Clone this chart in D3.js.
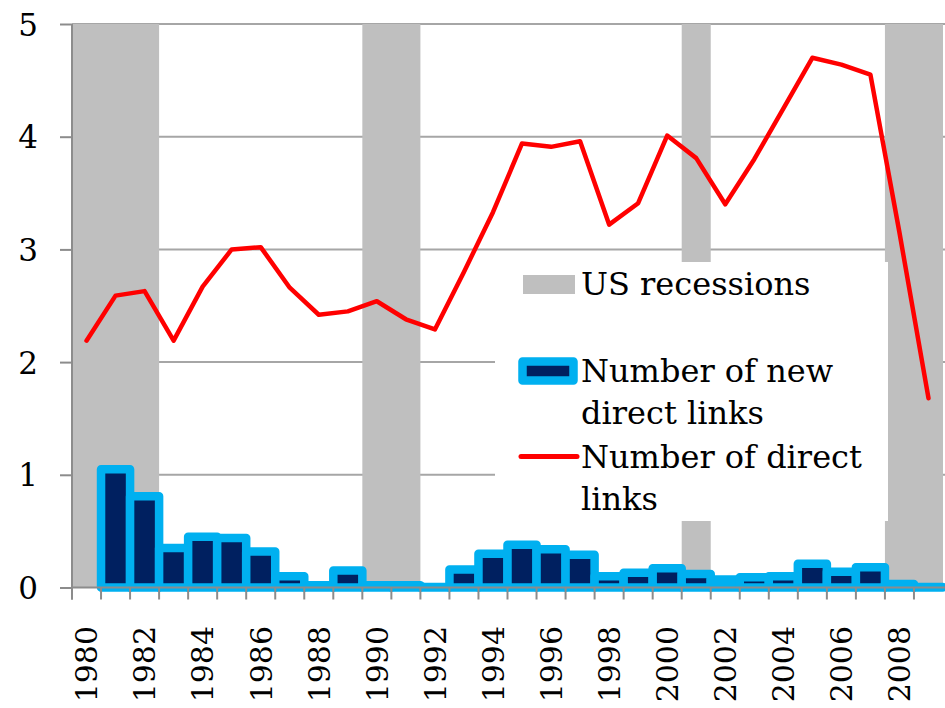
<!DOCTYPE html>
<html>
<head>
<meta charset="utf-8">
<script src="https://cdn.jsdelivr.net/npm/d3@7"></script>
<style>
  html, body { margin: 0; padding: 0; background: #fff; }
  svg { display: block; font-family: "DejaVu Serif", serif; }
</style>
</head>
<body>
<svg id="chart" width="945" height="708"></svg>
<script>
// ---- data ----
const years = [1980,1981,1982,1983,1984,1985,1986,1987,1988,1989,
               1990,1991,1992,1993,1994,1995,1996,1997,1998,1999,
               2000,2001,2002,2003,2004,2005,2006,2007,2008,2009];
const recessionYears = [1980,1981,1982,1990,1991,2001,2008,2009];
const recessionHeight = 5;
const newDirectLinks = [null,1.05,0.81,0.35,0.45,0.44,0.32,0.10,0.02,0.15,
                        0.02,0.02,0.005,0.16,0.30,0.38,0.34,0.29,0.10,0.13,
                        0.17,0.12,0.07,0.09,0.10,0.21,0.14,0.18,0.03,0.005];
const directLinks = [2.19,2.59,2.63,2.19,2.67,3.00,3.02,2.66,2.42,2.45,
                     2.54,2.38,2.29,2.80,3.33,3.94,3.91,3.96,3.22,3.41,
                     4.01,3.81,3.40,3.80,4.25,4.70,4.64,4.55,3.15,1.68];
const yTicks = [0,1,2,3,4,5];
const xTickLabels = [1980,1982,1984,1986,1988,1990,1992,1994,1996,1998,2000,2002,2004,2006,2008];
const legendLabels = ["US recessions", ["Number of new","direct links"], ["Number of direct","links"]];

// ---- layout ----
const svg = d3.select("#chart");
const pLeft = 72, pRight = 943, pTop = 24, pBottom = 587.5;
const x = d3.scaleBand().domain(years).range([pLeft, pRight]).padding(0);
const y = d3.scaleLinear().domain([0, 5]).range([pBottom, pTop]);

const gridColor = "#a6a6a6", axisColor = "#8c8c8c";

// gridlines
svg.append("g").selectAll("line").data(yTicks.filter(d => d > 0)).join("line")
  .attr("x1", pLeft).attr("x2", 945)
  .attr("y1", d => y(d)).attr("y2", d => y(d))
  .attr("stroke", gridColor).attr("stroke-width", 2);

// recession bands (contiguous years merged to avoid seams)
const spans = [];
recessionYears.forEach(yr => {
  const last = spans[spans.length - 1];
  if (last && years.indexOf(yr) === years.indexOf(last.end) + 1) last.end = yr;
  else spans.push({start: yr, end: yr});
});
svg.append("g").selectAll("rect").data(spans).join("rect")
  .attr("x", d => x(d.start)).attr("width", d => x(d.end) + x.bandwidth() - x(d.start))
  .attr("y", y(recessionHeight)).attr("height", y(0) - y(recessionHeight))
  .attr("fill", "#bfbfbf");

// bars
const barData = years.map((yr, i) => ({yr, v: newDirectLinks[i]})).filter(d => d.v != null);
svg.append("g").selectAll("rect").data(barData).join("rect")
  .attr("x", d => x(d.yr)).attr("width", x.bandwidth())
  .attr("y", d => y(d.v)).attr("height", d => y(0) - y(d.v))
  .attr("fill", "#002060").attr("stroke", "#00b0f0")
  .attr("stroke-width", 8.5).attr("stroke-linejoin", "round");

// line
const line = d3.line()
  .x((d, i) => x(years[i]) + x.bandwidth() / 2)
  .y(d => y(d));
svg.append("path").datum(directLinks)
  .attr("d", line).attr("fill", "none")
  .attr("stroke", "#ff0000").attr("stroke-width", 4.5)
  .attr("stroke-linejoin", "round").attr("stroke-linecap", "round");

// y axis
const yAxis = svg.append("g").attr("transform", `translate(${pLeft},0)`)
  .call(d3.axisLeft(y).tickValues(yTicks).tickFormat(d3.format("d")).tickSize(12).tickPadding(22));
yAxis.select(".domain").remove();
yAxis.append("line").attr("x1", 0).attr("x2", 0).attr("y1", pTop).attr("y2", pBottom + 12)
  .attr("stroke", axisColor).attr("stroke-width", 2);
yAxis.selectAll(".tick line").attr("stroke", axisColor).attr("stroke-width", 2);
yAxis.selectAll(".tick text").attr("font-size", 31).attr("font-family", "DejaVu Serif")
  .attr("fill", "#000").attr("dy", "0.36em");

// x axis
const xg = svg.append("g");
xg.append("line").attr("x1", pLeft).attr("x2", 945).attr("y1", pBottom).attr("y2", pBottom)
  .attr("stroke", axisColor).attr("stroke-width", 2);
xg.selectAll("line.tk").data(years).join("line").attr("class", "tk")
  .attr("x1", d => x(d)).attr("x2", d => x(d))
  .attr("y1", pBottom).attr("y2", pBottom + 12)
  .attr("stroke", axisColor).attr("stroke-width", 2);
xg.selectAll("text").data(xTickLabels).join("text")
  .attr("transform", d => `translate(${x(d) + x.bandwidth() / 2},626) rotate(-90)`)
  .attr("text-anchor", "end").attr("dy", "0.36em")
  .attr("font-size", 30).attr("fill", "#000")
  .text(d => d);

// legend
const lg = svg.append("g");
lg.append("rect").attr("x", 495).attr("y", 262).attr("width", 393).attr("height", 259).attr("fill", "#fff");
lg.append("rect").attr("x", 523).attr("y", 275).attr("width", 52).attr("height", 19).attr("fill", "#bfbfbf");
lg.append("text").attr("x", 581).attr("y", 295).attr("font-size", 32).text(legendLabels[0]);
lg.append("rect").attr("x", 522.5).attr("y", 361.5).attr("width", 51).attr("height", 19)
  .attr("fill", "#002060").attr("stroke", "#00b0f0").attr("stroke-width", 8.5).attr("stroke-linejoin", "round");
legendLabels[1].forEach((t, i) => lg.append("text").attr("x", 581).attr("y", 382 + i * 42).attr("font-size", 32).text(t));
lg.append("line").attr("x1", 521).attr("x2", 577).attr("y1", 456.5).attr("y2", 456.5)
  .attr("stroke", "#ff0000").attr("stroke-width", 5).attr("stroke-linecap", "round");
legendLabels[2].forEach((t, i) => lg.append("text").attr("x", 581).attr("y", 468 + i * 42).attr("font-size", 32).text(t));
</script>
</body>
</html>
